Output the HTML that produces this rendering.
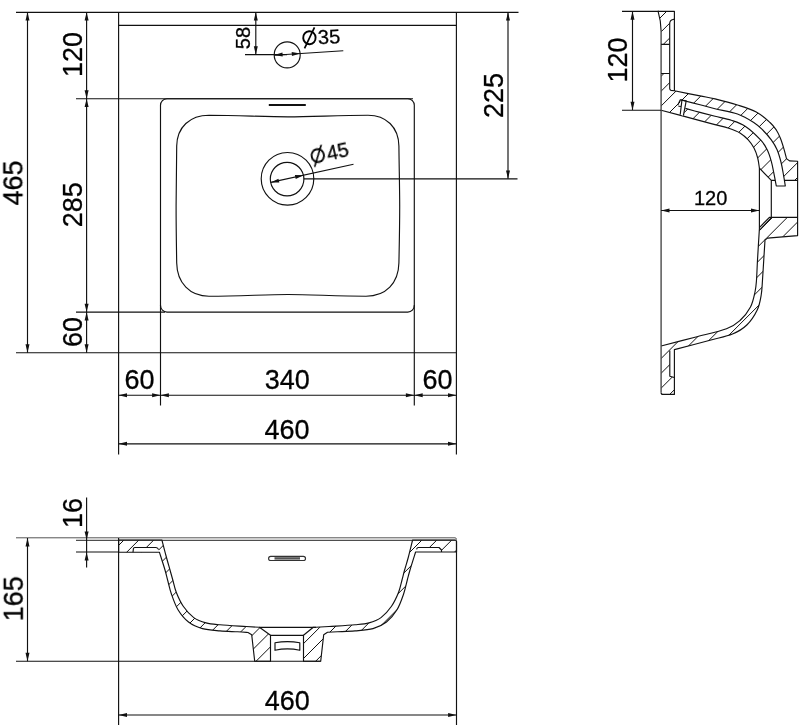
<!DOCTYPE html>
<html><head><meta charset="utf-8"><title>Sink dimensions</title>
<style>html,body{margin:0;padding:0;background:#fff;}body{width:800px;height:728px;overflow:hidden;font-family:"Liberation Sans",sans-serif;}svg{display:block;}</style>
</head><body>
<svg width="800" height="728" viewBox="0 0 800 728">
<rect width="800" height="728" fill="#fff"/>
<g fill="none" stroke="#111" stroke-width="1.15" stroke-linecap="butt" stroke-linejoin="round">
<g id="top">
<path d="M16,12.35 H518.5"/>
<path d="M118.6,25.4 H456.4"/>
<path d="M118.6,12.2 V454.5"/>
<path d="M456.4,12.2 V454.5"/>
<path d="M16,352.7 H456.4"/>
<path d="M76,98.7 H413"/>
<path d="M76,312.1 H165"/>
<path d="M160.5,305 V405.5"/>
<path d="M414.3,305 V405.5"/>
<rect x="160.5" y="98.7" width="253.8" height="213.4" rx="6.5" ry="6.5"/>
<path d="M209,115.2 C240,115.4 265,116.8 288,116.8 C311,116.8 337,115.4 368,115.2 C386,115.2 398.6,127 398.9,146 C399.2,170 399.7,190 399.7,206 C399.7,225 399.3,245 398.9,263 C398.5,283 386,296.2 366,296.2 C337,296.2 311,294.5 288,294.5 C265,294.5 240,296.2 209,296.2 C190,296.2 177,283 176.7,263 C176.4,245 176.1,225 176.1,206 C176.1,190 176.4,170 176.7,146 C177,127 190,115.2 209,115.2 Z"/>
<path d="M268.8,105 H305.8" stroke-width="2"/>
<circle cx="287.2" cy="54.9" r="13"/>
<path d="M245,54.6 H287"/>
<path d="M274.2,55.2 L343.3,50.8"/>
<circle cx="287.5" cy="178.8" r="26.3"/>
<circle cx="287.1" cy="179.1" r="16.8"/>
<path d="M270.7,182.4 L353.5,164.2"/>
<path d="M303.7,178.8 H517.5"/>
<path d="M27.5,12.2 V352.7"/>
<path d="M86.6,12.2 V352.7"/>
<path d="M508,12.2 V178.8"/>
<path d="M255.8,12.2 V54.6"/>
<path d="M118.6,395.2 H456.4"/>
<path d="M118.6,443.8 H456.4"/>
</g>
<clipPath id="cs"><path d="M658.1,11.3 H674.4 V90.8 L674.40,90.80 C678.67,91.65 693.23,94.55 700.00,95.90 C706.77,97.25 708.75,97.38 715.00,98.90 C721.25,100.42 730.62,102.82 737.50,105.00 C744.38,107.18 750.83,109.08 756.25,112.00 C761.67,114.92 766.66,119.50 770.00,122.50 C773.34,125.50 774.57,127.38 776.30,130.00 C778.03,132.62 779.17,135.18 780.40,138.20 C781.63,141.22 782.68,144.70 783.70,148.10 C784.72,151.50 786.03,156.85 786.50,158.60 L789.5,160.9 L797.6,161.3 V235.6 L767.5,238.1 L765.00,240.00 C764.79,243.33 764.17,253.33 763.75,260.00 C763.33,266.67 762.92,274.17 762.50,280.00 C762.08,285.83 762.08,290.00 761.20,295.00 C760.32,300.00 759.60,305.00 757.20,310.00 C754.80,315.00 750.92,321.00 746.80,325.00 C742.68,329.00 738.63,331.47 732.50,334.00 C726.37,336.53 719.68,337.60 710.00,340.20 C700.32,342.80 680.33,348.03 674.40,349.60 V394.4 H663 Q661.1,394.4 661.1,392.4 V346 L661.10,346.00 C666.75,344.53 684.10,340.07 695.00,337.20 C705.90,334.32 719.00,331.53 726.50,328.75 C734.00,325.97 736.00,324.12 740.00,320.50 C744.00,316.88 748.00,311.75 750.50,307.00 C753.00,302.25 754.00,296.50 755.00,292.00 C756.00,287.50 756.08,285.33 756.50,280.00 C756.92,274.67 757.02,268.54 757.50,260.00 C757.98,251.46 759.08,233.96 759.40,228.75 V168.2 L759.40,168.20 C759.12,166.50 758.60,161.35 757.70,158.00 C756.80,154.65 755.58,151.12 754.00,148.10 C752.42,145.08 750.58,142.43 748.25,139.90 C745.92,137.37 743.25,134.85 740.00,132.90 C736.75,130.95 732.92,129.58 728.75,128.20 C724.58,126.82 719.79,125.87 715.00,124.60 C710.21,123.33 708.98,123.00 700.00,120.60 C691.02,118.20 667.58,111.93 661.10,110.20 V31 Q660.8,20 658.1,11.3 Z"/></clipPath>
<g clip-path="url(#cs)" stroke-width="1">
<path d="M600,48.3 L800,-151.7"/>
<path d="M600,63.1 L800,-136.9"/>
<path d="M600,78.0 L800,-122.0"/>
<path d="M600,92.9 L800,-107.1"/>
<path d="M600,107.7 L800,-92.3"/>
<path d="M600,122.6 L800,-77.4"/>
<path d="M600,137.4 L800,-62.6"/>
<path d="M600,152.3 L800,-47.7"/>
<path d="M600,167.1 L800,-32.9"/>
<path d="M600,182.0 L800,-18.0"/>
<path d="M600,196.8 L800,-3.2"/>
<path d="M600,211.7 L800,11.7"/>
<path d="M600,226.5 L800,26.5"/>
<path d="M600,241.4 L800,41.4"/>
<path d="M600,256.2 L800,56.2"/>
<path d="M600,271.1 L800,71.1"/>
<path d="M600,285.9 L800,85.9"/>
<path d="M600,300.8 L800,100.8"/>
<path d="M600,315.6 L800,115.6"/>
<path d="M600,330.5 L800,130.5"/>
<path d="M600,345.3 L800,145.3"/>
<path d="M600,360.2 L800,160.2"/>
<path d="M600,375.0 L800,175.0"/>
<path d="M600,389.9 L800,189.9"/>
<path d="M600,404.7 L800,204.7"/>
<path d="M600,419.6 L800,219.6"/>
<path d="M600,434.4 L800,234.4"/>
<path d="M600,449.3 L800,249.3"/>
<path d="M600,464.1 L800,264.1"/>
<path d="M600,479.0 L800,279.0"/>
<path d="M600,493.8 L800,293.8"/>
<path d="M600,508.7 L800,308.7"/>
<path d="M600,523.5 L800,323.5"/>
<path d="M600,538.3 L800,338.3"/>
<path d="M600,553.2 L800,353.2"/>
<path d="M600,568.0 L800,368.0"/>
<path d="M600,582.9 L800,382.9"/>
<path d="M600,597.7 L800,397.7"/>
</g>
<g fill="#fff" stroke="none">
<rect x="661.1" y="44.4" width="8.6" height="29.1"/>
<path d="M669.7,24 Q669.7,20 673,19.5 L674.4,19.3 V90.8 L671,90.4 Q669.7,90 669.6,88.5 Z"/>
<path d="M669.8,350.6 L674.4,349.6 V377.5 L669.8,376.2 Z"/>
<path d="M759.4,168.2 L771.3,180.3 H797.6 V217.3 H771.4 L759.8,229.9 L759.4,229 Z"/>
</g>
<path d="M661.1,31 Q660.8,20 658.1,11.3 H674.4 V90.8 L674.40,90.80 C678.67,91.65 693.23,94.55 700.00,95.90 C706.77,97.25 708.75,97.38 715.00,98.90 C721.25,100.42 730.62,102.82 737.50,105.00 C744.38,107.18 750.83,109.08 756.25,112.00 C761.67,114.92 766.66,119.50 770.00,122.50 C773.34,125.50 774.57,127.38 776.30,130.00 C778.03,132.62 779.17,135.18 780.40,138.20 C781.63,141.22 782.68,144.70 783.70,148.10 C784.72,151.50 786.03,156.85 786.50,158.60 L789.5,160.9 L797.6,161.3 V235.6 L767.5,238.1 L765.00,240.00 C764.79,243.33 764.17,253.33 763.75,260.00 C763.33,266.67 762.92,274.17 762.50,280.00 C762.08,285.83 762.08,290.00 761.20,295.00 C760.32,300.00 759.60,305.00 757.20,310.00 C754.80,315.00 750.92,321.00 746.80,325.00 C742.68,329.00 738.63,331.47 732.50,334.00 C726.37,336.53 719.68,337.60 710.00,340.20 C700.32,342.80 680.33,348.03 674.40,349.60 V394.4 H663 Q661.1,394.4 661.1,392.4"/>
<path d="M661.1,346 L661.10,346.00 C666.75,344.53 684.10,340.07 695.00,337.20 C705.90,334.32 719.00,331.53 726.50,328.75 C734.00,325.97 736.00,324.12 740.00,320.50 C744.00,316.88 748.00,311.75 750.50,307.00 C753.00,302.25 754.00,296.50 755.00,292.00 C756.00,287.50 756.08,285.33 756.50,280.00 C756.92,274.67 757.02,268.54 757.50,260.00 C757.98,251.46 759.08,233.96 759.40,228.75 V168.2 L759.40,168.20 C759.12,166.50 758.60,161.35 757.70,158.00 C756.80,154.65 755.58,151.12 754.00,148.10 C752.42,145.08 750.58,142.43 748.25,139.90 C745.92,137.37 743.25,134.85 740.00,132.90 C736.75,130.95 732.92,129.58 728.75,128.20 C724.58,126.82 719.79,125.87 715.00,124.60 C710.21,123.33 708.98,123.00 700.00,120.60 C691.02,118.20 667.58,111.93 661.10,110.20"/>
<path d="M661.1,31 V392.4" stroke="#4a4a4a" stroke-width="1.4"/>
<path d="M661.1,44.4 H669.7 M661.1,73.5 H669.7"/>
<path d="M674.4,19.3 L673,19.5 Q669.7,20 669.7,24 V88.5 Q669.7,90 671,90.4 L674.4,90.8"/>
<path d="M669.8,350.6 V376.2 L674.4,377.5"/>
<path d="M759.4,168.2 L771.3,180.3 H797.6 M771.3,180.3 V217.3 M797.6,217.3 H769.4 L759.6,227.4 M771.4,217.6 L759.9,229.8"/>
<path d="M680.30,99.80 C683.58,100.62 694.22,103.22 700.00,104.70 C705.78,106.18 708.75,107.15 715.00,108.70 C721.25,110.25 731.04,111.70 737.50,114.00 C743.96,116.30 749.55,119.83 753.75,122.50 C757.95,125.17 759.78,127.10 762.70,130.00 C765.62,132.90 768.90,136.60 771.30,139.90 C773.70,143.20 775.45,145.95 777.10,149.80 C778.75,153.65 780.10,158.60 781.20,163.00 C782.30,167.40 783.02,172.37 783.70,176.20 C784.38,180.03 785.03,184.37 785.30,186.00 L776.3,186 L776.30,186.00 C775.88,183.82 774.63,177.02 773.80,172.90 C772.97,168.78 772.40,165.15 771.30,161.30 C770.20,157.45 768.98,153.37 767.20,149.80 C765.42,146.23 764.22,143.80 760.60,139.90 C756.98,136.00 750.39,129.67 745.50,126.40 C740.61,123.13 736.33,121.98 731.25,120.30 C726.17,118.62 720.21,117.62 715.00,116.30 C709.79,114.98 704.93,113.72 700.00,112.40 C695.07,111.08 687.83,109.07 685.40,108.40 L683.4,115.7 L680.2,114.7 L680.3,99.8 Z" fill="#fff" stroke="none"/>
<path d="M680.30,99.80 C683.58,100.62 694.22,103.22 700.00,104.70 C705.78,106.18 708.75,107.15 715.00,108.70 C721.25,110.25 731.04,111.70 737.50,114.00 C743.96,116.30 749.55,119.83 753.75,122.50 C757.95,125.17 759.78,127.10 762.70,130.00 C765.62,132.90 768.90,136.60 771.30,139.90 C773.70,143.20 775.45,145.95 777.10,149.80 C778.75,153.65 780.10,158.60 781.20,163.00 C782.30,167.40 783.02,172.37 783.70,176.20 C784.38,180.03 785.03,184.37 785.30,186.00 L776.3,186 L776.30,186.00 C775.88,183.82 774.63,177.02 773.80,172.90 C772.97,168.78 772.40,165.15 771.30,161.30 C770.20,157.45 768.98,153.37 767.20,149.80 C765.42,146.23 764.22,143.80 760.60,139.90 C756.98,136.00 750.39,129.67 745.50,126.40 C740.61,123.13 736.33,121.98 731.25,120.30 C726.17,118.62 720.21,117.62 715.00,116.30 C709.79,114.98 704.93,113.72 700.00,112.40 C695.07,111.08 687.83,109.07 685.40,108.40"/>
<path d="M680.3,99.8 L686.2,100.9 L683.4,115.7 M681.9,100.4 L680.2,114.7 M677.7,105.2 L680.3,99.8 M678.4,106.2 L681.6,106.5"/>
<path d="M622,11.3 H659 M622,110.2 H661.1 M632.5,11.3 V110.2"/>
<path d="M661.1,210.5 H759.4"/>
<clipPath id="cf"><path d="M118.6,540 H161.9 L161.90,540.00 C162.55,542.50 164.45,550.00 165.80,555.00 C167.15,560.00 168.83,565.83 170.00,570.00 C171.17,574.17 171.76,576.29 172.80,580.00 C173.84,583.71 174.51,587.88 176.25,592.25 C177.99,596.62 180.33,602.02 183.25,606.25 C186.17,610.48 189.96,614.83 193.75,617.60 C197.54,620.38 201.62,621.70 206.00,622.90 C210.38,624.10 213.29,624.20 220.00,624.80 C226.71,625.40 239.68,626.08 246.25,626.50 C252.82,626.92 257.21,627.17 259.40,627.30 L270.5,635.3 V661.2 H254.7 L251.7,634.7 L248,632.5 L248.00,632.50 C246.25,632.38 242.17,632.07 237.50,631.80 C232.83,631.53 225.83,631.43 220.00,630.90 C214.17,630.37 207.75,630.08 202.50,628.60 C197.25,627.12 192.58,625.14 188.50,622.00 C184.42,618.86 180.85,614.42 178.00,609.75 C175.15,605.08 173.13,598.96 171.40,594.00 C169.67,589.04 168.67,584.00 167.60,580.00 C166.53,576.00 166.37,574.63 165.00,570.00 C163.63,565.37 160.33,555.17 159.40,552.20 H118.6 Z"/><path d="M412.6,540 H455 Q456.5,540 456.5,541.5 V552 H415.6 L415.60,552.00 C414.67,555.00 411.38,565.33 410.00,570.00 C408.62,574.67 408.37,576.00 407.30,580.00 C406.23,584.00 405.32,589.04 403.60,594.00 C401.88,598.96 399.85,605.08 397.00,609.75 C394.15,614.42 390.50,618.86 386.50,622.00 C382.50,625.14 378.25,627.12 373.00,628.60 C367.75,630.08 360.92,630.37 355.00,630.90 C349.08,631.43 342.08,631.57 337.50,631.80 C332.92,632.03 329.17,632.22 327.50,632.30 L323.7,634.7 L320.7,661.2 H303.5 V635.3 L313.3,627.3 L316,627.3 L316.00,627.30 C318.17,627.17 322.50,626.92 329.00,626.50 C335.50,626.08 348.33,625.40 355.00,624.80 C361.67,624.20 364.67,624.10 369.00,622.90 C373.33,621.70 377.25,620.38 381.00,617.60 C384.75,614.83 388.57,610.48 391.50,606.25 C394.43,602.02 396.85,596.62 398.60,592.25 C400.35,587.88 401.00,583.71 402.00,580.00 C403.00,576.29 403.53,573.83 404.60,570.00 C405.67,566.17 407.07,562.00 408.40,557.00 C409.73,552.00 411.90,542.83 412.60,540.00 Z"/></clipPath>
<g clip-path="url(#cf)" stroke-width="1">
<path d="M100,549.1 L480,169.1"/>
<path d="M100,564.0 L480,184.0"/>
<path d="M100,578.9 L480,198.9"/>
<path d="M100,593.8 L480,213.8"/>
<path d="M100,608.7 L480,228.7"/>
<path d="M100,623.6 L480,243.6"/>
<path d="M100,638.5 L480,258.5"/>
<path d="M100,653.4 L480,273.4"/>
<path d="M100,668.3 L480,288.3"/>
<path d="M100,683.2 L480,303.2"/>
<path d="M100,698.1 L480,318.1"/>
<path d="M100,713.0 L480,333.0"/>
<path d="M100,727.9 L480,347.9"/>
<path d="M100,742.8 L480,362.8"/>
<path d="M100,757.7 L480,377.7"/>
<path d="M100,772.6 L480,392.6"/>
<path d="M100,787.5 L480,407.5"/>
<path d="M100,802.4 L480,422.4"/>
<path d="M100,817.3 L480,437.3"/>
<path d="M100,832.2 L480,452.2"/>
<path d="M100,847.1 L480,467.1"/>
<path d="M100,862.0 L480,482.0"/>
<path d="M100,876.9 L480,496.9"/>
<path d="M100,891.8 L480,511.8"/>
<path d="M100,906.7 L480,526.7"/>
<path d="M100,921.6 L480,541.6"/>
<path d="M100,936.5 L480,556.5"/>
<path d="M100,951.4 L480,571.4"/>
<path d="M100,966.3 L480,586.3"/>
<path d="M100,981.2 L480,601.2"/>
<path d="M100,996.1 L480,616.1"/>
</g>
<g fill="#fff" stroke="none">
<path d="M133,552.2 L133.4,548.6 Q133.6,547.5 134.8,547.5 H156 Q157.8,547.6 158.6,549.6 L159.4,552.2 Z"/>
<path d="M416,552 L416.6,549 Q417,547.5 418.4,547.5 H439 L441.5,550 V552 Z"/>
</g>
<path d="M118.6,540 H161.9 L161.90,540.00 C162.55,542.50 164.45,550.00 165.80,555.00 C167.15,560.00 168.83,565.83 170.00,570.00 C171.17,574.17 171.76,576.29 172.80,580.00 C173.84,583.71 174.51,587.88 176.25,592.25 C177.99,596.62 180.33,602.02 183.25,606.25 C186.17,610.48 189.96,614.83 193.75,617.60 C197.54,620.38 201.62,621.70 206.00,622.90 C210.38,624.10 213.29,624.20 220.00,624.80 C226.71,625.40 239.68,626.08 246.25,626.50 C252.82,626.92 257.21,627.17 259.40,627.30 L270.5,635.3 V661.2 H254.7 L251.7,634.7 L248,632.5 L248.00,632.50 C246.25,632.38 242.17,632.07 237.50,631.80 C232.83,631.53 225.83,631.43 220.00,630.90 C214.17,630.37 207.75,630.08 202.50,628.60 C197.25,627.12 192.58,625.14 188.50,622.00 C184.42,618.86 180.85,614.42 178.00,609.75 C175.15,605.08 173.13,598.96 171.40,594.00 C169.67,589.04 168.67,584.00 167.60,580.00 C166.53,576.00 166.37,574.63 165.00,570.00 C163.63,565.37 160.33,555.17 159.40,552.20 H118.6 Z"/>
<path d="M412.6,540 H455 Q456.5,540 456.5,541.5 V552 H415.6 L415.60,552.00 C414.67,555.00 411.38,565.33 410.00,570.00 C408.62,574.67 408.37,576.00 407.30,580.00 C406.23,584.00 405.32,589.04 403.60,594.00 C401.88,598.96 399.85,605.08 397.00,609.75 C394.15,614.42 390.50,618.86 386.50,622.00 C382.50,625.14 378.25,627.12 373.00,628.60 C367.75,630.08 360.92,630.37 355.00,630.90 C349.08,631.43 342.08,631.57 337.50,631.80 C332.92,632.03 329.17,632.22 327.50,632.30 L323.7,634.7 L320.7,661.2 H303.5 V635.3 L313.3,627.3 L316,627.3 L316.00,627.30 C318.17,627.17 322.50,626.92 329.00,626.50 C335.50,626.08 348.33,625.40 355.00,624.80 C361.67,624.20 364.67,624.10 369.00,622.90 C373.33,621.70 377.25,620.38 381.00,617.60 C384.75,614.83 388.57,610.48 391.50,606.25 C394.43,602.02 396.85,596.62 398.60,592.25 C400.35,587.88 401.00,583.71 402.00,580.00 C403.00,576.29 403.53,573.83 404.60,570.00 C405.67,566.17 407.07,562.00 408.40,557.00 C409.73,552.00 411.90,542.83 412.60,540.00 Z"/>
<path d="M133,552.2 L133.4,548.6 Q133.6,547.5 134.8,547.5 H156 Q157.8,547.6 158.6,549.6"/>
<path d="M416.6,549.4 Q417,547.5 418.4,547.5 H439 L441.5,550 V552"/>
<path d="M16,537.8 H455 Q456.5,537.8 456.5,539.6" stroke="#555" stroke-width="1"/>
<path d="M76,540.3 H456" stroke="#222" stroke-width="1"/>
<path d="M259.4,627.3 H316 M270.5,635.3 H303.5"/>
<path d="M275,642.8 Q287.4,640.4 299.8,642.8 V650.3 Q287.4,647.6 275,650.3 Z"/>
<rect x="268.6" y="556.3" width="36.9" height="4.2" rx="2.1" ry="2.1" stroke="#333"/>
<path d="M274.5,558.4 H300" stroke="#555" stroke-width="2.4"/>
<path d="M76,552 H118.6"/>
<path d="M16,661.2 H320.7"/>
<path d="M118.6,538 V725 M456.5,541 V725"/>
<path d="M27.5,538 V661.2"/>
<path d="M86.6,497.5 V567.5"/>
<path d="M118.6,715 H456.5"/>
</g>
<g fill="#111" stroke="none">
<polygon points="27.50,12.20 29.50,20.60 25.50,20.60"/>
<polygon points="27.50,352.70 25.50,344.30 29.50,344.30"/>
<polygon points="86.60,12.20 88.60,20.60 84.60,20.60"/>
<polygon points="86.60,98.70 84.60,90.30 88.60,90.30"/>
<polygon points="86.60,98.70 88.60,107.10 84.60,107.10"/>
<polygon points="86.60,312.10 84.60,303.70 88.60,303.70"/>
<polygon points="86.60,312.10 88.60,320.50 84.60,320.50"/>
<polygon points="86.60,352.70 84.60,344.30 88.60,344.30"/>
<polygon points="508.00,12.20 510.00,20.60 506.00,20.60"/>
<polygon points="508.00,178.80 506.00,170.40 510.00,170.40"/>
<polygon points="255.80,12.20 257.80,20.60 253.80,20.60"/>
<polygon points="255.80,54.60 253.80,46.20 257.80,46.20"/>
<polygon points="118.60,395.20 127.00,393.20 127.00,397.20"/>
<polygon points="160.50,395.20 152.10,397.20 152.10,393.20"/>
<polygon points="160.50,395.20 168.90,393.20 168.90,397.20"/>
<polygon points="414.30,395.20 405.90,397.20 405.90,393.20"/>
<polygon points="414.30,395.20 422.70,393.20 422.70,397.20"/>
<polygon points="456.40,395.20 448.00,397.20 448.00,393.20"/>
<polygon points="118.60,443.80 127.00,441.80 127.00,445.80"/>
<polygon points="456.40,443.80 448.00,445.80 448.00,441.80"/>
<polygon points="274.20,55.10 282.46,52.58 282.71,56.57"/>
<polygon points="300.20,53.50 291.94,56.02 291.69,52.03"/>
<polygon points="270.70,182.40 278.47,178.64 279.33,182.55"/>
<polygon points="303.50,175.20 295.73,178.96 294.87,175.05"/>
<polygon points="632.50,11.30 634.50,19.70 630.50,19.70"/>
<polygon points="632.50,110.20 630.50,101.80 634.50,101.80"/>
<polygon points="661.10,210.50 669.50,208.50 669.50,212.50"/>
<polygon points="759.40,210.50 751.00,212.50 751.00,208.50"/>
<polygon points="27.50,538.00 29.50,546.40 25.50,546.40"/>
<polygon points="27.50,661.20 25.50,652.80 29.50,652.80"/>
<polygon points="86.60,540.00 84.60,531.60 88.60,531.60"/>
<polygon points="86.60,552.20 88.60,560.60 84.60,560.60"/>
<polygon points="118.60,715.00 127.00,713.00 127.00,717.00"/>
<polygon points="456.50,715.00 448.10,717.00 448.10,713.00"/>
</g>
<g fill="#000" stroke="#000" stroke-width="0.3" opacity="0.995" font-family="'Liberation Sans', sans-serif">
<text transform="translate(12.20,183.00) rotate(-90.0) scale(1,1.050)" x="0" y="9.67" font-size="27" text-anchor="middle">465</text>
<text transform="translate(71.80,54.50) rotate(-90.0) scale(1,1.050)" x="0" y="9.67" font-size="27" text-anchor="middle">120</text>
<text transform="translate(71.80,204.80) rotate(-90.0) scale(1,1.050)" x="0" y="9.67" font-size="27" text-anchor="middle">285</text>
<text transform="translate(71.80,332.00) rotate(-90.0) scale(1,1.050)" x="0" y="9.67" font-size="27" text-anchor="middle">60</text>
<text transform="translate(492.80,95.40) rotate(-90.0) scale(1,1.050)" x="0" y="9.67" font-size="27" text-anchor="middle">225</text>
<text transform="translate(242.40,38.10) rotate(-90.0) scale(1,1.000)" x="0" y="7.16" font-size="20" text-anchor="middle">58</text>
<g transform="translate(309.40,37.70) rotate(-3.5)"><ellipse cx="0" cy="0" rx="6.2" ry="6.5" fill="none" stroke="#000" stroke-width="1.9"/><path d="M-5.5,10.3 L5.7,-9.9" fill="none" stroke="#000" stroke-width="1.7"/><text x="19.60" y="7.16" font-size="20" text-anchor="middle">35</text></g>
<g transform="translate(317.80,155.60) rotate(-12.3)"><ellipse cx="0" cy="0" rx="6.2" ry="6.5" fill="none" stroke="#000" stroke-width="1.9"/><path d="M-5.5,10.3 L5.7,-9.9" fill="none" stroke="#000" stroke-width="1.7"/><text x="20.30" y="7.16" font-size="20" text-anchor="middle">45</text></g>
<text transform="translate(139.50,379.30) rotate(0.0) scale(1,1.050)" x="0" y="9.67" font-size="27" text-anchor="middle">60</text>
<text transform="translate(287.30,379.30) rotate(0.0) scale(1,1.050)" x="0" y="9.67" font-size="27" text-anchor="middle">340</text>
<text transform="translate(437.60,379.30) rotate(0.0) scale(1,1.050)" x="0" y="9.67" font-size="27" text-anchor="middle">60</text>
<text transform="translate(286.90,428.60) rotate(0.0) scale(1,1.050)" x="0" y="9.67" font-size="27" text-anchor="middle">460</text>
<text transform="translate(617.00,60.00) rotate(-90.0) scale(1,1.050)" x="0" y="9.67" font-size="27" text-anchor="middle">120</text>
<text transform="translate(710.60,198.10) rotate(0.0) scale(1,1.000)" x="0" y="7.16" font-size="20" text-anchor="middle">120</text>
<text transform="translate(71.80,513.10) rotate(-90.0) scale(1,1.050)" x="0" y="9.67" font-size="27" text-anchor="middle">16</text>
<text transform="translate(12.60,598.80) rotate(-90.0) scale(1,1.050)" x="0" y="9.67" font-size="27" text-anchor="middle">165</text>
<text transform="translate(287.30,699.60) rotate(0.0) scale(1,1.050)" x="0" y="9.67" font-size="27" text-anchor="middle">460</text>
</g>
</svg>
</body></html>
